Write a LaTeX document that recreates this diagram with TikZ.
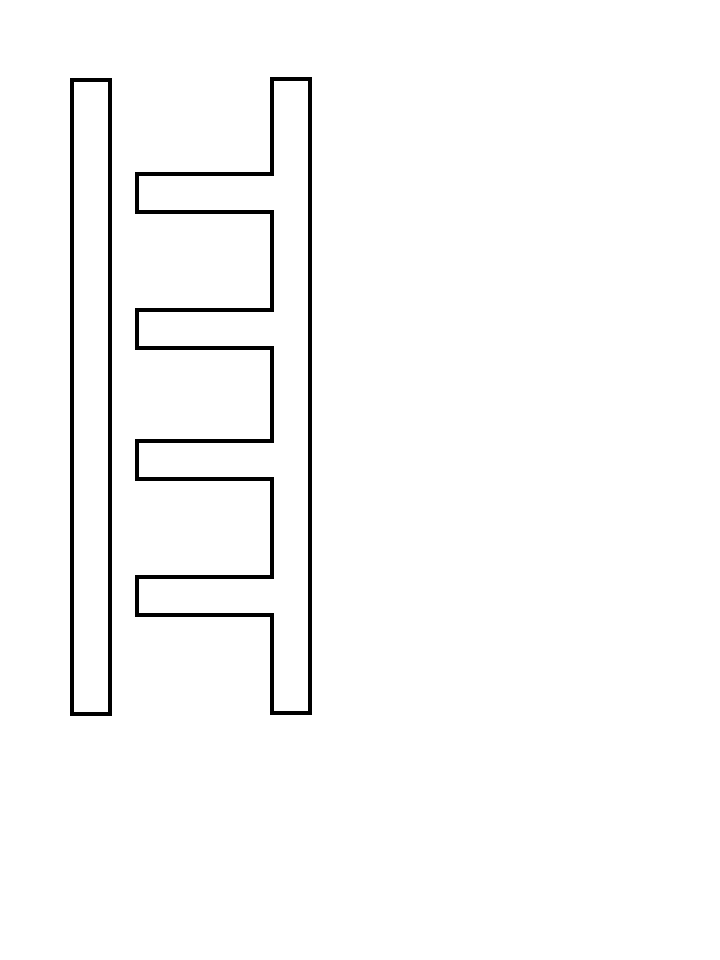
\documentclass[tikz,border=0pt]{standalone}
\usepackage{tikz}
\tikzset{outline/.style={line width=2.2pt,black,line join=miter}}
\begin{document}
\begin{tikzpicture}[x=0.025cm,y=-0.025cm]
	\useasboundingbox (0,0) rectangle (720,960);
	% left bar
	\draw[outline] (72,80) rectangle (110,714);
	% right bar with four teeth
	\draw[outline] (272,79) -- (310,79) -- (310,713) -- (272,713)
		-- (272,615) -- (137,615) -- (137,577) -- (272,577)
		-- (272,479) -- (137,479) -- (137,441) -- (272,441)
		-- (272,348) -- (137,348) -- (137,310) -- (272,310)
		-- (272,212) -- (137,212) -- (137,174) -- (272,174) -- cycle;
\end{tikzpicture}
\end{document}
